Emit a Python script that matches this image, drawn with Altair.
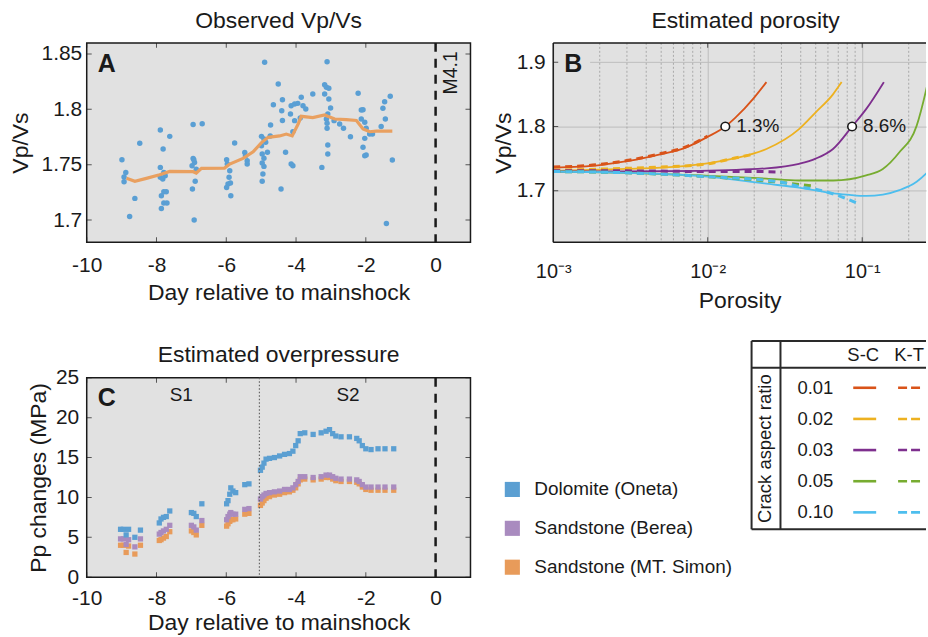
import altair as alt
import pandas as pd

FONT = "Liberation Sans"
INK = "#1a1a1a"
PANEL_BG = "#e1e1e1"
GRID = "#bdbdbd"
W_TIME, W_POR, H = 385, 374, 200

# ---------------- A: observed Vp/Vs ----------------
OBS_DAY = [
    -8.99, -8.88, -8.93, -8.93, -8.77, -8.62, -8.48,
    -7.89, -7.81, -7.62, -7.89, -7.89, -7.75, -7.79, -7.86, -7.79, -7.72, -7.79, -7.86, -7.70, -7.82,
    -6.95, -6.69, -6.95, -6.91, -6.98, -6.86, -6.89, -6.97, -6.92, -6.93,
    -5.99, -5.97, -5.90, -5.92, -5.95, -5.88, -5.99, -5.87, -5.76,
    -5.47, -5.45, -5.40, -5.40,
    -4.90, -4.99, -4.92, -4.87, -4.99, -4.82, -4.97, -4.92, -4.97, -4.92, -4.95, -4.97,
    -4.73, -4.74, -4.65, -4.51, -4.39, -4.41, -4.39, -4.43, -4.30,
    -4.14, -4.04, -3.95, -3.85, -3.80, -3.72, -4.16, -4.04, -3.88, -4.09, -4.14, -4.09, -3.52,
    -3.18, -3.13, -3.06, -3.11, -3.18, -3.06, -3.01, -3.09, -3.13, -3.11, -3.11, -3.09, -3.09, -3.26,
    -2.91, -2.75, -2.64, -2.44,
    -2.22, -2.13, -2.08, -2.13, -2.03, -1.99, -2.03, -1.89, -1.81, -2.08, -2.03, -1.99,
    -1.56, -1.44, -1.51, -1.46, -1.30, -1.41, -1.24,
]
OBS_VPVS = [
    1.7545, 1.743, 1.739, 1.7346, 1.7033, 1.7196, 1.7693,
    1.7813, 1.7642, 1.7756, 1.7476, 1.7386, 1.740, 1.743, 1.722, 1.7256, 1.7256, 1.7154, 1.7105, 1.7154, 1.737,
    1.7864, 1.787, 1.7557, 1.752, 1.749, 1.746, 1.735, 1.728, 1.700, 1.7545,
    1.7545, 1.7506, 1.7446, 1.7386, 1.7325, 1.7334, 1.7295, 1.722, 1.7696,
    1.7611, 1.758, 1.7536, 1.7506,
    1.8425, 1.7756, 1.7732, 1.7702, 1.7672, 1.7612, 1.7596, 1.7558, 1.7515, 1.7485, 1.7416, 1.735,
    1.7858, 1.776, 1.8042, 1.8229, 1.8087, 1.7988, 1.790, 1.728, 1.7612,
    1.8033, 1.8048, 1.8054, 1.8109, 1.8033, 1.8003, 1.7958, 1.7898, 1.7922, 1.7798, 1.7506, 1.7491, 1.8139,
    1.8223, 1.8199, 1.819, 1.843, 1.8139, 1.8093, 1.8012, 1.7958, 1.7913, 1.7874, 1.7829, 1.7678, 1.7596, 1.7476,
    1.7898, 1.7868, 1.7829, 1.7753,
    1.8145, 1.7994, 1.7997, 1.7913, 1.7883, 1.7829, 1.7738, 1.7777, 1.7777, 1.7657, 1.7581, 1.7587,
    1.7846, 1.7913, 1.8009, 1.8069, 1.8118, 1.697, 1.7542,
]
TREND_DAY = [-8.86, -8.62, -8.29, -7.91, -7.62, -6.95, -6.86, -6.71, -6.05, -5.90, -5.52, -5.23,
             -4.99, -4.80, -4.47, -4.28, -4.11, -3.94, -3.85, -3.52, -3.18, -3.09, -2.89, -2.56,
             -2.27, -2.08, -1.89, -1.70, -1.24]
TREND_VPVS = [1.7377, 1.735, 1.7377, 1.741, 1.744, 1.7437, 1.7425, 1.7467, 1.747, 1.7506, 1.7557, 1.7617,
              1.770, 1.7747, 1.776, 1.7777, 1.776, 1.7867, 1.7937, 1.7925, 1.7949, 1.7937, 1.7913, 1.7907,
              1.790, 1.7822, 1.7798, 1.7804, 1.7804]
MAINSHOCK = [0]
MAINSHOCK_TAG = ["M4.1"]
TIME_TICKS = [-10, -8, -6, -4, -2, 0]
VPVS_TICKS = [1.7, 1.75, 1.8, 1.85]

# ---------------- B: porosity vs Vp/Vs for crack aspect ratios ----------------
RATIOS = ["0.01", "0.02", "0.03", "0.05", "0.10"]
RATIO_COLORS = ["#D95319", "#EDB120", "#7E2F8E", "#77AC30", "#4DBEEE"]
MODELS = ["S-C", "K-T"]

SC_PHI_001 = [0.001, 0.002, 0.003, 0.005, 0.007, 0.01, 0.013, 0.015, 0.02, 0.024]
SC_VP_001 = [1.736, 1.740, 1.746, 1.757, 1.766, 1.784, 1.800, 1.813, 1.845, 1.869]
SC_PHI_002 = [0.001, 0.003, 0.005, 0.0089, 0.0146, 0.024, 0.039, 0.05, 0.0647, 0.0736]
SC_VP_002 = [1.731, 1.734, 1.736, 1.741, 1.750, 1.765, 1.796, 1.822, 1.850, 1.869]
SC_PHI_003 = [0.001, 0.003, 0.0089, 0.024, 0.039, 0.05, 0.0647, 0.086, 0.106, 0.138]
SC_VP_003 = [1.730, 1.730, 1.731, 1.735, 1.742, 1.750, 1.765, 1.800, 1.827, 1.869]
SC_PHI_005 = [0.001, 0.003, 0.0089, 0.024, 0.039, 0.065, 0.106, 0.136, 0.174, 0.225, 0.26, 0.30]
SC_VP_005 = [1.730, 1.728, 1.724, 1.719, 1.716, 1.716, 1.724, 1.734, 1.760, 1.801, 1.858, 1.93]
SC_PHI_010 = [0.001, 0.003, 0.01, 0.024, 0.039, 0.065, 0.08, 0.106, 0.136, 0.174, 0.225, 0.26, 0.316]
SC_VP_010 = [1.730, 1.728, 1.722, 1.711, 1.705, 1.696, 1.694, 1.692, 1.694, 1.701, 1.714, 1.727, 1.75]

KT_PHI_001 = [0.001, 0.002, 0.003, 0.005, 0.007, 0.01]
KT_VP_001 = [1.737, 1.741, 1.747, 1.758, 1.767, 1.785]
KT_PHI_002 = [0.001, 0.003, 0.005, 0.01, 0.015, 0.02]
KT_VP_002 = [1.732, 1.735, 1.737, 1.742, 1.751, 1.757]
KT_PHI_003 = [0.001, 0.003, 0.01, 0.02, 0.03]
KT_VP_003 = [1.731, 1.731, 1.730, 1.730, 1.729]
KT_PHI_005 = [0.001, 0.003, 0.01, 0.02, 0.05]
KT_VP_005 = [1.730, 1.728, 1.722, 1.717, 1.707]
KT_PHI_010 = [0.001, 0.003, 0.01, 0.029, 0.04, 0.053, 0.073, 0.096]
KT_VP_010 = [1.730, 1.728, 1.722, 1.714, 1.706, 1.701, 1.691, 1.679]

PICK_PHI = [0.013, 0.086]
PICK_VPVS = [1.8, 1.8]
POR_TICKS = [0.001, 0.01, 0.1]
POR_TICK_TEXT = ["10⁻³", "10⁻²", "10⁻¹"]
POR_MINOR = [0.002, 0.003, 0.004, 0.005, 0.006, 0.007, 0.008, 0.009,
             0.02, 0.03, 0.04, 0.05, 0.06, 0.07, 0.08, 0.09, 0.2]
B_VPVS_TICKS = [1.7, 1.8, 1.9]

# ---------------- C: overpressure ----------------
ROCKS = ["Dolomite (Oneta)", "Sandstone (Berea)", "Sandstone (MT. Simon)"]
ROCK_COLORS = ["#5b9fd2", "#a98bbf", "#e89b5a"]
PP_DAY = [-9.03, -8.95, -8.87, -8.80, -8.62, -8.46,
          -7.92, -7.87, -7.80, -7.72, -7.62,
          -7.00, -6.93, -6.86, -6.70,
          -5.99, -5.95, -5.90, -5.87, -5.81, -5.73, -5.47, -5.35,
          -5.02, -4.97, -4.92, -4.86, -4.76, -4.62, -4.47, -4.33, -4.19, -4.09, -4.01, -3.94,
          -3.88, -3.75, -3.51, -3.28, -3.14, -3.04, -2.95, -2.86, -2.71, -2.47, -2.26, -2.19,
          -2.10, -2.00, -1.85, -1.65, -1.45, -1.20]
PP_DOLOMITE = [6.0, 6.0, 5.3, 6.0, 5.0, 5.9,
               6.8, 7.3, 7.5, 7.6, 8.3,
               8.1, 8.0, 7.6, 9.2,
               9.2, 9.6, 10.4, 11.2, 10.8, 10.6, 11.6, 11.7,
               13.4, 13.8, 14.3, 14.8, 14.9, 15.0, 15.2, 15.4, 15.5, 15.8, 16.5, 17.1,
               18.0, 18.1, 17.9, 18.1, 18.3, 18.5, 18.0, 17.7, 17.6, 17.6, 17.4, 17.1,
               16.5, 16.1, 16.0, 16.1, 16.1, 16.1]
PP_BEREA = [4.8, 4.8, 4.1, 4.7, 3.8, 4.8,
            5.4, 5.6, 5.8, 6.0, 6.5,
            6.5, 6.3, 5.9, 7.1,
            7.2, 7.6, 7.9, 8.1, 7.9, 7.9, 8.5, 8.6,
            9.8, 10.1, 10.3, 10.5, 10.6, 10.7, 10.8, 11.0, 11.0, 11.2, 11.6, 12.0,
            12.6, 12.6, 12.5, 12.6, 12.8, 12.8, 12.6, 12.4, 12.3, 12.3, 12.2, 12.0,
            11.6, 11.3, 11.3, 11.3, 11.3, 11.3]
PP_MTSIMON = [4.0, 4.0, 3.1, 3.9, 2.9, 4.0,
              4.6, 4.7, 4.9, 5.1, 5.7,
              5.8, 5.6, 5.3, 6.5,
              6.4, 6.7, 7.0, 7.2, 7.2, 7.3, 7.9, 8.0,
              9.0, 9.3, 9.6, 9.9, 10.1, 10.3, 10.4, 10.6, 10.7, 10.9, 11.2, 11.7,
              12.2, 12.3, 12.2, 12.3, 12.5, 12.5, 12.3, 12.1, 12.0, 12.0, 11.9, 11.7,
              11.3, 11.0, 10.9, 10.9, 10.9, 10.9]
STAGE_BREAK = [-5.05]
STAGE_NAMES = ["S1", "S2"]
STAGE_DAY = [-7.29, -2.51]
STAGE_PP = [22.8, 22.8]
PP_TICKS = [0, 5, 10, 15, 20, 25]


def axis(values, title, **kw):
    return alt.Axis(values=values, title=title, labelOverlap=False, labelFlush=False,
                    tickCount=len(values), **kw)


def inner_ticks(xvals, yvals, xscale, yscale, xaxis, yaxis, width, height, right=True):
    """Short ticks pointing into the frame; they carry the same axes as the main layer."""
    xt = pd.DataFrame({"v": xvals})
    yt = pd.DataFrame({"v": yvals})
    mk = dict(clip=True, size=10, thickness=1, color=INK)
    layers = [
        alt.Chart(xt).mark_tick(orient="vertical", **mk).encode(
            x=alt.X("v:Q", scale=xscale, axis=xaxis), y=alt.value(0)),
        alt.Chart(xt).mark_tick(orient="vertical", **mk).encode(
            x=alt.X("v:Q", scale=xscale, axis=xaxis), y=alt.value(height)),
        alt.Chart(yt).mark_tick(orient="horizontal", **mk).encode(
            y=alt.Y("v:Q", scale=yscale, axis=yaxis), x=alt.value(0)),
    ]
    if right:
        layers.append(alt.Chart(yt).mark_tick(orient="horizontal", **mk).encode(
            y=alt.Y("v:Q", scale=yscale, axis=yaxis), x=alt.value(width)))
    return layers


def panel_letter(letter, x, y):
    return alt.Chart(pd.DataFrame({"t": [letter]})).mark_text(
        align="left", baseline="middle", fontSize=25, fontWeight="bold", color=INK
    ).encode(x=alt.value(x), y=alt.value(y), text="t:N")


panel_view = alt.ViewBackground(fill=PANEL_BG, stroke=INK, strokeWidth=1.5)
plain_labels = "datum.value + ''"
one = pd.DataFrame({"k": [0]})

# ---------- panel A ----------
t_scale = alt.Scale(domain=[-10, 1], nice=False, zero=False)
va_scale = alt.Scale(domain=[1.68, 1.86], nice=False, zero=False)
a_xaxis = axis(TIME_TICKS, "Day relative to mainshock", labelExpr=plain_labels,
               labelPadding=12, titlePadding=6)
a_yaxis = axis(VPVS_TICKS, "Vp/Vs", labelExpr=plain_labels, labelPadding=5, titlePadding=9)

obs = pd.DataFrame({"day": OBS_DAY, "vpvs": OBS_VPVS})
trend = pd.DataFrame({"day": TREND_DAY, "vpvs": TREND_VPVS})
shock = pd.DataFrame({"day": MAINSHOCK, "tag": MAINSHOCK_TAG})

a_points = alt.Chart(obs).mark_circle(size=30, opacity=1, color="#5a9fd4").encode(
    x=alt.X("day:Q", scale=t_scale, axis=a_xaxis),
    y=alt.Y("vpvs:Q", scale=va_scale, axis=a_yaxis),
)
a_trend = alt.Chart(trend).mark_line(color="#e9a060", strokeWidth=3.2).encode(
    x=alt.X("day:Q", scale=t_scale, axis=a_xaxis), y=alt.Y("vpvs:Q", scale=va_scale, axis=a_yaxis))
a_shock = alt.Chart(shock).mark_rule(color=INK, strokeWidth=2.5, strokeDash=[9, 7]).encode(
    x=alt.X("day:Q", scale=t_scale, axis=a_xaxis))
a_tag = alt.Chart(shock).mark_text(angle=270, fontSize=19.5, color=INK, align="center",
                                   baseline="middle").encode(
    x=alt.value(W_TIME - 20), y=alt.value(30), text="tag:N")

panel_a = alt.layer(
    a_points, a_trend, a_shock, a_tag, panel_letter("A", 11, 21),
    *inner_ticks(TIME_TICKS, VPVS_TICKS, t_scale, va_scale, a_xaxis, a_yaxis, W_TIME, H),
).properties(width=W_TIME, height=H, title="Observed Vp/Vs", view=panel_view)

# ---------- panel B ----------
p_scale = alt.Scale(type="log", domain=[0.001, 0.2588], nice=False)
vb_scale = alt.Scale(domain=[1.62, 1.93], nice=False, zero=False)
por_label_expr = " : ".join(
    f"datum.value == {v} ? '{s}'" for v, s in zip(POR_TICKS[:-1], POR_TICK_TEXT[:-1])
) + f" : '{POR_TICK_TEXT[-1]}'"
b_xaxis = axis(POR_TICKS, "Porosity", labelExpr=por_label_expr, labelFontSize=20,
               grid=True, gridColor=GRID, gridWidth=1, labelPadding=19, titlePadding=8)
b_yaxis = axis(B_VPVS_TICKS, "Vp/Vs", labelExpr=plain_labels, grid=True, gridColor=GRID,
               gridWidth=1, labelPadding=8, titlePadding=1)


def curves(model, pairs):
    rows = []
    for ratio, (phis, vals) in zip(RATIOS, pairs):
        for i, (p, v) in enumerate(zip(phis, vals)):
            rows.append({"model": model, "ratio": ratio, "phi": p, "vpvs": v, "i": i})
    return pd.DataFrame(rows)


sc = curves("S-C", [(SC_PHI_001, SC_VP_001), (SC_PHI_002, SC_VP_002), (SC_PHI_003, SC_VP_003),
                    (SC_PHI_005, SC_VP_005), (SC_PHI_010, SC_VP_010)])
kt = curves("K-T", [(KT_PHI_001, KT_VP_001), (KT_PHI_002, KT_VP_002), (KT_PHI_003, KT_VP_003),
                    (KT_PHI_005, KT_VP_005), (KT_PHI_010, KT_VP_010)])
ratio_color = alt.Color("ratio:N", scale=alt.Scale(domain=RATIOS, range=RATIO_COLORS), legend=None)
bx = alt.X("phi:Q", scale=p_scale, axis=b_xaxis)
by = alt.Y("vpvs:Q", scale=vb_scale, axis=b_yaxis)

b_minor = alt.Chart(pd.DataFrame({"phi": POR_MINOR})).mark_rule(
    color="#a9a9a9", strokeWidth=1, strokeDash=[2, 2]).encode(x=bx)
# the panel letter sits on a patch of background that interrupts the top grid line
b_patch = alt.Chart(pd.DataFrame({"vpvs": B_VPVS_TICKS[-1:]})).mark_rule(
    color=PANEL_BG, strokeWidth=4).encode(x=alt.value(1), x2=alt.value(37), y=by)
b_sc = alt.Chart(sc).mark_line(strokeWidth=1.8, clip=True, interpolate="monotone").encode(
    x=bx, y=by, color=ratio_color, detail="ratio:N", order="i:Q")
b_kt = alt.Chart(kt).mark_line(strokeWidth=3, strokeDash=[7, 5], clip=True, interpolate="monotone").encode(
    x=bx, y=by, color=ratio_color, detail="ratio:N", order="i:Q")
picks = pd.DataFrame({"phi": PICK_PHI, "vpvs": PICK_VPVS})
picks["txt"] = [f"{p * 100:.1f}%" for p in PICK_PHI]
b_pick = alt.Chart(picks).mark_point(shape="circle", filled=True, fill="white", stroke=INK,
                                     strokeWidth=1.6, size=75, opacity=1).encode(x=bx, y=by)
b_pick_txt = alt.Chart(picks).mark_text(align="left", baseline="middle", dx=11, fontSize=19,
                                        color=INK).encode(x=bx, y=by, text="txt:N")
# frame drawn on three sides: the right side runs off the page
frame_kw = dict(color=INK, strokeWidth=1.5)
b_left = alt.Chart(one).mark_rule(**frame_kw).encode(x=alt.value(0), y=alt.value(0), y2=alt.value(H))
b_top = alt.Chart(one).mark_rule(**frame_kw).encode(x=alt.value(0), x2=alt.value(W_POR), y=alt.value(0))
b_bot = alt.Chart(one).mark_rule(**frame_kw).encode(x=alt.value(0), x2=alt.value(W_POR), y=alt.value(H))

panel_b = alt.layer(
    b_minor, b_patch, b_sc, b_kt, b_pick, b_pick_txt, panel_letter("B", 11, 21),
    *inner_ticks(POR_TICKS, B_VPVS_TICKS, p_scale, vb_scale, b_xaxis, b_yaxis, W_POR, H, right=False),
    b_left, b_top, b_bot,
).properties(width=W_POR, height=H, title=alt.Title("Estimated porosity", dx=6),
             view=alt.ViewBackground(fill=PANEL_BG, stroke="transparent"))

# ---------- panel C ----------
pp_scale = alt.Scale(domain=[0, 25], nice=False, zero=False)
c_xaxis = axis(TIME_TICKS, "Day relative to mainshock", labelExpr=plain_labels,
               labelPadding=10, titlePadding=4)
c_yaxis = axis(PP_TICKS, "Pp changes (MPa)", labelExpr=plain_labels, labelPadding=8, titlePadding=5)
rock_color = alt.Color("rock:N", scale=alt.Scale(domain=ROCKS, range=ROCK_COLORS), legend=None)
pp_rows = []
for rock, vals in [(ROCKS[2], PP_MTSIMON), (ROCKS[1], PP_BEREA), (ROCKS[0], PP_DOLOMITE)]:
    for d, v in zip(PP_DAY, vals):
        pp_rows.append({"rock": rock, "day": d, "pp": v})
pp = pd.DataFrame(pp_rows)
cx = alt.X("day:Q", scale=t_scale, axis=c_xaxis)
cy = alt.Y("pp:Q", scale=pp_scale, axis=c_yaxis)

c_sq = alt.Chart(pp).mark_square(size=28, opacity=1).encode(x=cx, y=cy, color=rock_color)
c_break = alt.Chart(pd.DataFrame({"day": STAGE_BREAK})).mark_rule(
    color="#666666", strokeWidth=1.2, strokeDash=[1.5, 2]).encode(x=cx)
c_shock = alt.Chart(shock).mark_rule(color=INK, strokeWidth=2.5, strokeDash=[9, 7]).encode(x=cx)
c_stage = alt.Chart(pd.DataFrame({"day": STAGE_DAY, "pp": STAGE_PP, "s": STAGE_NAMES})).mark_text(
    fontSize=19, color=INK, baseline="middle").encode(x=cx, y=cy, text="s:N")

panel_c = alt.layer(
    c_sq, c_break, c_shock, c_stage, panel_letter("C", 11, 20),
    *inner_ticks(TIME_TICKS, PP_TICKS, t_scale, pp_scale, c_xaxis, c_yaxis, W_TIME, H),
).properties(width=W_TIME, height=H, title=alt.Title("Estimated overpressure", offset=0),
             view=panel_view)

# ---------- legends: rock types and crack-model key ----------
KEY_RIGHT = W_POR
rock_df = pd.DataFrame({"rock": ROCKS})
rock_y = alt.Y("rock:N", scale=alt.Scale(type="point", domain=ROCKS, range=[112, 190], padding=0), axis=None)
leg_sq = alt.Chart(rock_df).mark_square(size=230, opacity=1).encode(
    x=alt.value(-41), y=rock_y, color=rock_color)
leg_tx = alt.Chart(rock_df).mark_text(align="left", baseline="middle", fontSize=19, color=INK).encode(
    x=alt.value(-19), y=rock_y, text="rock:N")

ratio_df = pd.DataFrame({"ratio": RATIOS})
ratio_y = alt.Y("ratio:N", scale=alt.Scale(type="point", domain=RATIOS, range=[10, 135], padding=0), axis=None)
key_val = alt.Chart(ratio_df).mark_text(align="left", baseline="middle", fontSize=18.5, color=INK).encode(
    x=alt.value(245), y=ratio_y, text="ratio:N")
key_sc = alt.Chart(ratio_df).mark_rule(strokeWidth=2.6).encode(
    x=alt.value(301), x2=alt.value(324), y=ratio_y, color=ratio_color)
key_kt = alt.Chart(ratio_df).mark_rule(strokeWidth=2.6, strokeDash=[9, 4]).encode(
    x=alt.value(346), x2=alt.value(368), y=ratio_y, color=ratio_color)
key_head = alt.Chart(pd.DataFrame({"model": MODELS})).mark_text(
    baseline="middle", fontSize=18.5, color=INK).encode(
    x=alt.X("model:N", scale=alt.Scale(type="point", domain=MODELS, range=[311, 357], padding=0), axis=None),
    y=alt.value(-23), text="model:N")
key_side = alt.Chart(pd.DataFrame({"t": ["Crack aspect ratio"]})).mark_text(
    angle=270, baseline="middle", fontSize=18.5, color=INK).encode(
    x=alt.value(212), y=alt.value(71), text="t:N")
line_kw = dict(color="#2a2a2a", strokeWidth=2)
key_left = alt.Chart(one).mark_rule(**line_kw).encode(x=alt.value(199), y=alt.value(-37), y2=alt.value(152))
key_vsep = alt.Chart(one).mark_rule(**line_kw).encode(x=alt.value(228), y=alt.value(-37), y2=alt.value(152))
key_top = alt.Chart(one).mark_rule(**line_kw).encode(x=alt.value(199), x2=alt.value(KEY_RIGHT), y=alt.value(-37))
key_hsep = alt.Chart(one).mark_rule(**line_kw).encode(x=alt.value(199), x2=alt.value(KEY_RIGHT), y=alt.value(-10))
key_bot = alt.Chart(one).mark_rule(**line_kw).encode(x=alt.value(199), x2=alt.value(KEY_RIGHT), y=alt.value(152))

legends = alt.layer(
    key_left, key_vsep, key_top, key_hsep, key_bot,
    leg_sq, leg_tx, key_val, key_sc, key_kt, key_head, key_side,
).resolve_scale(x="independent", y="independent", color="independent").properties(
    width=W_POR, height=H, view=alt.ViewBackground(stroke="transparent"))

chart = alt.concat(
    panel_a, panel_b, panel_c, legends, columns=2, align="each",
    spacing={"row": 26, "column": 20},
).resolve_scale(
    color="independent",
).properties(
    padding={"left": 8, "top": 8, "right": 0, "bottom": 0},
).configure_axis(
    labelFont=FONT, titleFont=FONT, labelFontSize=21, titleFontSize=23,
    labelColor=INK, titleColor=INK, titleFontWeight="normal",
    ticks=False, domain=False, grid=False, labelOverlap=False,
).configure_title(
    font=FONT, fontSize=23, fontWeight="normal", color=INK, offset=9,
).configure_text(font=FONT).configure_view(stroke=INK, strokeWidth=1.5)

chart.save("out.html", embed_options={"renderer": "svg", "actions": False})
